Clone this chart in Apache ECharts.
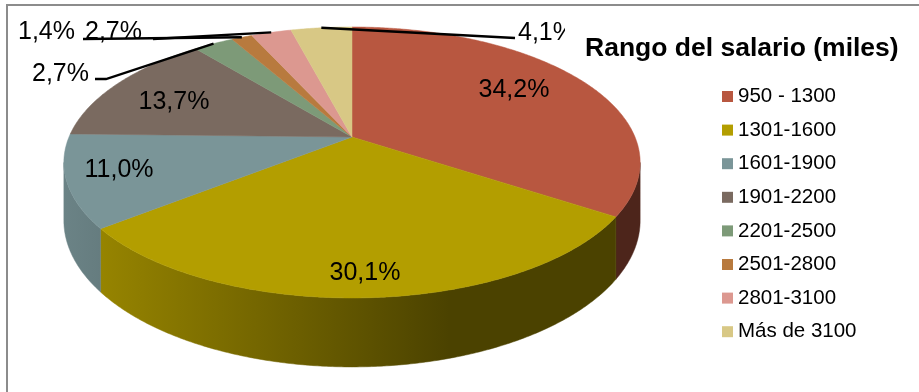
<!DOCTYPE html>
<html>
<head>
<meta charset="utf-8">
<script src="https://cdn.jsdelivr.net/npm/echarts@6/dist/echarts.min.js"></script>
<style>
  html, body { margin: 0; padding: 0; background: #ffffff; }
  #chart { width: 919px; height: 392px; }
</style>
</head>
<body>
<div id="chart"></div>
<script>
// Salary ranges (thousands) and their share of employees, in percent
const categories = ['950 - 1300', '1301-1600', '1601-1900', '1901-2200',
                    '2201-2500', '2501-2800', '2801-3100', 'Más de 3100'];
const shares = [34.2, 30.1, 11.0, 13.7, 2.7, 1.4, 2.7, 4.1];
const sliceColors = ['#b85740', '#b39e00', '#7a9598', '#7a6a60',
                     '#7d9a78', '#b87a3e', '#dc9890', '#d8c885'];
const legendTitle = 'Rango del salario (miles)';

// Tilted disc seen in perspective: apex, radii, perspective strength, thickness
const disc = { cx: 352, cy: 137, ax: 283, by: 130.7, k: 0.188, depth: 56 };

// Angle a runs clockwise from 12 o'clock; r is the fraction of the radius
function project(a, r) {
  const u = r * Math.sin(a), v = -r * Math.cos(a);
  const s = 1 / (1 - disc.k * v);
  return [disc.cx + disc.ax * u * s, disc.cy + disc.by * v * s, s];
}

const total = shares.reduce((p, c) => p + c, 0);
function sliceAngles(i) {
  let before = 0;
  for (let j = 0; j < i; j++) before += shares[j];
  return [before / total * Math.PI * 2, (before + shares[i]) / total * Math.PI * 2];
}

function shade(hex, f) {
  const n = parseInt(hex.slice(1), 16);
  const r = Math.round(((n >> 16) & 255) * f);
  const g = Math.round(((n >> 8) & 255) * f);
  const b = Math.round((n & 255) * f);
  return 'rgb(' + r + ',' + g + ',' + b + ')';
}

function wallFill(hex) {
  return new echarts.graphic.LinearGradient(63, 0, 640, 0, [
    { offset: 0, color: shade(hex, 0.88) },
    { offset: 0.67, color: shade(hex, 0.42) },
    { offset: 1, color: shade(hex, 0.42) }
  ], true);
}

const STEP = Math.PI / 360;
const visFrom = Math.acos(-disc.k);
const visTo = Math.PI * 2 - visFrom;

function renderSlice(params, api) {
  const i = params.dataIndex;
  const [a0, a1] = sliceAngles(i);
  const color = sliceColors[i];
  const children = [];

  // outer wall, only where it faces the viewer
  const w0 = Math.max(a0, visFrom), w1 = Math.min(a1, visTo);
  if (w1 > w0) {
    const topEdge = [], bottomEdge = [];
    for (let a = w0; ; a += STEP) {
      const t = Math.min(a, w1);
      const p = project(t, 1);
      topEdge.push([p[0], p[1]]);
      bottomEdge.push([p[0], p[1] + disc.depth * p[2]]);
      if (t >= w1) break;
    }
    children.push({
      type: 'polygon',
      shape: { points: topEdge.concat(bottomEdge.reverse()) },
      style: { fill: wallFill(color), stroke: wallFill(color), lineWidth: 0.5 },
      z2: 1
    });
  }

  // top face
  const pts = [[disc.cx, disc.cy]];
  for (let a = a0; ; a += STEP) {
    const t = Math.min(a, a1);
    const p = project(t, 1);
    pts.push([p[0], p[1]]);
    if (t >= a1) break;
  }
  children.push({
    type: 'polygon',
    shape: { points: pts },
    style: { fill: color, stroke: color, lineWidth: 0.5 },
    z2: 2
  });
  return { type: 'group', children: children };
}

// Label placement: [x, y, align, leader start points]
const labelLayout = [
  [514, 90, 'center', null],
  [365, 273, 'center', null],
  [119, 170, 'center', null],
  [174, 102, 'center', null],
  [89, 74, 'right', [[95, 79], [106, 79]]],
  [18, 32, 'left', [[83, 39]]],
  [85, 32, 'left', [[153, 39]]],
  [518, 33, 'left', [[515, 38]]]
];

function formatShare(v) {
  return v.toFixed(1).replace('.', ',') + '%';
}

function renderLabel(params, api) {
  const i = params.dataIndex;
  const [a0, a1] = sliceAngles(i);
  const lay = labelLayout[i];
  const children = [];
  if (lay[3]) {
    const edge = project((a0 + a1) / 2, 1);
    children.push({
      type: 'polyline',
      shape: { points: lay[3].concat([[edge[0], edge[1]]]) },
      style: { stroke: '#000000', lineWidth: 2.3, fill: null }
    });
  }
  children.push({
    type: 'text',
    style: {
      x: lay[0], y: lay[1],
      text: formatShare(api.value(0)),
      align: lay[2], verticalAlign: 'middle',
      fontFamily: 'Liberation Sans, Arial, sans-serif',
      fontSize: 25, fill: '#000000'
    }
  });
  return { type: 'group', children: children };
}

const chart = echarts.init(document.getElementById('chart'), null, { renderer: 'canvas' });

chart.setOption({
  animation: false,
  backgroundColor: '#ffffff',
  title: {
    text: legendTitle,
    left: 585, top: 35,
    padding: 0,
    z: 8,
    textStyle: {
      fontFamily: 'Liberation Sans, Arial, sans-serif',
      fontSize: 26.5, fontWeight: 'bold', color: '#000000'
    }
  },
  legend: {
    orient: 'vertical',
    left: 722, top: 86,
    padding: 0,
    itemWidth: 11, itemHeight: 11,
    itemGap: 12.6,
    icon: 'rect',
    selectedMode: false,
    data: categories,
    textStyle: {
      fontFamily: 'Liberation Sans, Arial, sans-serif',
      fontSize: 20.5, lineHeight: 20, color: '#000000', padding: [0, 0, 0, 0]
    },
    z: 8
  },
  graphic: {
    elements: [
      { type: 'rect', z: 7, shape: { x: 565, y: 8, width: 354, height: 56 },
        style: { fill: '#ffffff' } },
      { type: 'line', z: 9, shape: { x1: 7, y1: 5, x2: 919, y2: 5 },
        style: { stroke: '#8c8c8c', lineWidth: 2 } },
      { type: 'line', z: 9, shape: { x1: 7, y1: 4, x2: 7, y2: 392 },
        style: { stroke: '#8c8c8c', lineWidth: 2 } }
    ]
  },
  series: [
    {
      // carries the category names and colours for the legend
      type: 'pie',
      center: [-200, -200],
      radius: 1,
      silent: true,
      label: { show: false },
      labelLine: { show: false },
      data: categories.map((c, i) => ({
        name: c, value: shares[i], itemStyle: { color: sliceColors[i] }
      }))
    },
    {
      type: 'custom',
      coordinateSystem: 'none',
      renderItem: renderSlice,
      silent: true,
      z: 2,
      data: shares.map(v => [v])
    },
    {
      type: 'custom',
      coordinateSystem: 'none',
      renderItem: renderLabel,
      silent: true,
      z: 4,
      data: shares.map(v => [v])
    }
  ]
});
</script>
</body>
</html>
